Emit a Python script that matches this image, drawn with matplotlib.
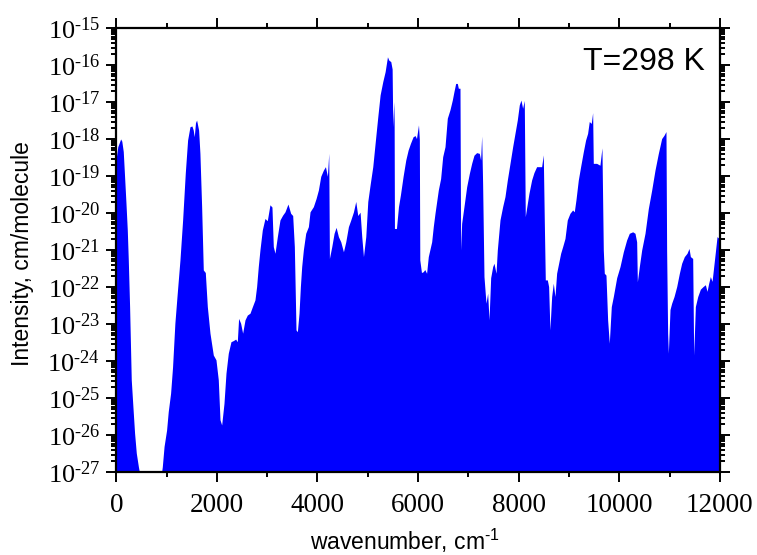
import numpy as np
import matplotlib
matplotlib.use('Agg')
import matplotlib.pyplot as plt
from matplotlib.ticker import FuncFormatter, LogLocator, MultipleLocator, NullFormatter

# envelope of the line spectrum (cm-1, log10 intensity)
wavenumber = [0, 30, 87, 110, 139, 165, 193, 219, 239, 265, 298, 331, 364, 398, 440, 460,
              900, 915, 950, 1000, 1033, 1080, 1119, 1165, 1212, 1266, 1319, 1372, 1418, 1465,
              1504, 1530, 1550, 1575, 1597, 1637, 1663, 1697, 1730, 1770, 1810, 1863, 1929,
              1982, 2028, 2062, 2095, 2141, 2181, 2227, 2280, 2327, 2373, 2406, 2432, 2472,
              2512, 2559, 2605, 2658, 2704, 2757, 2790, 2823, 2856, 2903, 2956, 3002, 3055,
              3095, 3122, 3155, 3202, 3254, 3307, 3354, 3413, 3467, 3507, 3540, 3573, 3600,
              3633, 3660, 3686, 3719, 3766, 3819, 3852, 3918, 3972, 4018, 4065, 4118, 4158,
              4197, 4224, 4237, 4284, 4330, 4370, 4416, 4463, 4516, 4562, 4615, 4662, 4715,
              4761, 4801, 4847, 4880, 4914, 4960, 5000, 5046, 5099, 5152, 5199, 5245, 5298,
              5345, 5391, 5418, 5457, 5484, 5497, 5517, 5524, 5530, 5570, 5610, 5649, 5702,
              5755, 5802, 5848, 5901, 5941, 5968, 6008, 6025, 6034, 6067, 6100, 6134, 6169,
              6203, 6270, 6302, 6336, 6402, 6448, 6489, 6535, 6581, 6634, 6680, 6713, 6747,
              6780, 6800, 6833, 6846, 6866, 6912, 6966, 7019, 7065, 7111, 7164, 7217, 7243,
              7264, 7283, 7310, 7350, 7383, 7410, 7443, 7483, 7509, 7549, 7575, 7628, 7681,
              7727, 7774, 7827, 7880, 7926, 7972, 8012, 8045, 8078, 8111, 8131, 8157, 8204,
              8257, 8303, 8356, 8409, 8456, 8489, 8509, 8529, 8569, 8595, 8621, 8655, 8688,
              8721, 8754, 8794, 8834, 8874, 8920, 8966, 9019, 9072, 9105, 9138, 9185, 9231,
              9284, 9330, 9370, 9403, 9443, 9470, 9483, 9549, 9615, 9655, 9682, 9702, 9735,
              9768, 9801, 9841, 9881, 9948, 10014, 10080, 10146, 10199, 10266, 10312, 10345,
              10359, 10398, 10445, 10511, 10577, 10644, 10710, 10776, 10842, 10889, 10928,
              10941, 10961, 10975, 11008, 11041, 11088, 11141, 11194, 11240, 11293, 11346,
              11386, 11413, 11459, 11479, 11512, 11559, 11612, 11665, 11711, 11744, 11777,
              11810, 11844, 11877, 11910, 11943, 11976, 12000]

log_intensity = [-18.5, -18.2, -17.99, -18.05, -18.33, -19.0, -19.73, -20.45, -21.26, -22.52,
                 -24.5, -25.23, -25.94, -26.48, -26.85, -27.0,
                 -27.0, -26.85, -26.3, -25.86, -25.36, -24.86, -24.15, -22.97, -22.16, -21.26,
                 -20.18, -18.91, -18.02, -17.66, -17.64, -17.75, -17.93, -17.55, -17.48, -17.75,
                 -18.38, -19.82, -21.53, -21.6, -22.52, -23.24, -23.83, -23.96, -24.5, -25.58,
                 -25.72, -25.14, -24.32, -23.78, -23.47, -23.44, -23.4, -23.47, -22.84, -22.97,
                 -23.24, -22.88, -22.75, -22.7, -22.53, -22.34, -21.98, -21.44, -20.99, -20.45,
                 -20.14, -20.2, -19.77, -19.83, -20.9, -21.08, -20.63, -20.18, -20.05, -19.96,
                 -19.75, -20.0, -20.06, -20.9, -23.15, -23.2, -22.7, -21.98, -21.44, -20.99,
                 -20.54, -20.36, -19.96, -19.82, -19.6, -19.37, -19.0, -18.83, -18.74, -19.0,
                 -18.38, -21.22, -20.9, -20.54, -20.38, -20.63, -20.77, -21.04, -20.77, -20.36,
                 -20.18, -19.96, -19.68, -20.06, -19.97, -20.63, -21.17, -20.63, -19.68, -19.23,
                 -18.74, -18.02, -17.39, -16.8, -16.44, -16.17, -15.77, -15.86, -15.9, -16.1,
                 -17.66, -16.98, -17.5, -20.41, -20.41, -19.82, -19.5, -19.0, -18.56, -18.29,
                 -18.11, -17.93, -17.9, -17.98, -17.61, -18.0, -21.26, -21.6, -21.58, -21.52,
                 -21.62, -21.17, -20.77, -20.36, -20.0, -19.37, -19.06, -18.47, -18.2, -17.43,
                 -17.2, -16.94, -16.71, -16.49, -16.49, -16.62, -16.62, -20.99, -20.27, -19.82,
                 -19.28, -18.92, -18.65, -18.43, -18.36, -18.38, -18.56, -17.91, -19.2, -21.71,
                 -22.43, -22.16, -22.88, -21.74, -21.44, -21.35, -21.62, -20.99, -20.18, -19.82,
                 -19.55, -19.1, -18.65, -18.2, -17.84, -17.48, -17.07, -16.94, -17.16, -16.95,
                 -20.09, -19.86, -19.46, -19.1, -18.9, -18.74, -18.74, -18.74, -18.42, -20.2,
                 -21.8, -21.8, -21.98, -23.15, -22.25, -21.89, -22.25, -21.62, -21.35, -21.08,
                 -20.9, -20.68, -20.18, -20.0, -19.91, -19.96, -19.64, -19.1, -18.74, -18.34,
                 -18.02, -17.84, -17.52, -17.57, -17.28, -18.65, -18.65, -18.7, -18.23, -20.99,
                 -21.62, -21.67, -22.88, -23.51, -22.52, -22.25, -21.74, -21.44, -21.04, -20.72,
                 -20.54, -20.5, -20.54, -20.77, -21.85, -21.44, -20.99, -20.54, -19.87, -19.37,
                 -18.83, -18.38, -17.98, -17.89, -17.79, -21.0, -23.24, -23.78, -22.6, -22.43,
                 -22.25, -21.98, -21.62, -21.35, -21.17, -21.08, -20.95, -21.17, -21.22, -23.83,
                 -22.52, -22.25, -22.05, -21.98, -21.93, -22.11, -21.89, -21.71, -21.84, -21.44,
                 -21.04, -20.63, -20.67, -20.6]

plt.rcParams['font.family'] = 'Liberation Serif'
plt.rcParams['mathtext.fontset'] = 'custom'
plt.rcParams['mathtext.rm'] = 'Liberation Serif'
plt.rcParams['mathtext.it'] = 'Liberation Serif:italic'
plt.rcParams['mathtext.bf'] = 'Liberation Serif:bold'
plt.rcParams['mathtext.sf'] = 'Liberation Sans'

w = np.array(wavenumber, dtype=float)
inten = 10.0 ** np.array(log_intensity)

fig = plt.figure(figsize=(7.57, 5.55), dpi=100)
ax = fig.add_axes([0.1536, 0.149, 0.7974, 0.800])

ax.fill_between(w, 1e-27, inten, color='#0000ff', linewidth=0)
ax.set_yscale('log')
ax.set_xlim(0, 12000)
ax.set_ylim(1e-27, 1e-15)


def ylab(v, p):
    e = int(round(np.log10(v)))
    return r'$\mathrm{10^{%s%d}}$' % ('\u2010' if e < 0 else '', abs(e))


ax.xaxis.set_major_locator(MultipleLocator(2000))
ax.xaxis.set_minor_locator(MultipleLocator(1000))
ax.yaxis.set_major_locator(LogLocator(base=10, numticks=20))
ax.yaxis.set_minor_locator(LogLocator(base=10, subs=np.arange(2, 10), numticks=200))
ax.yaxis.set_minor_formatter(NullFormatter())
ax.yaxis.set_major_formatter(FuncFormatter(ylab))

for s in ax.spines.values():
    s.set_linewidth(1.6)
ax.tick_params(which='both', direction='out', top=True, right=True, width=1.4)
ax.tick_params(which='major', length=7.5, pad=4)
ax.tick_params(which='minor', length=3.8)
ax.tick_params(axis='y', which='major', labelsize=19)
ax.tick_params(axis='x', which='major', labelsize=19.5, pad=7.5)

fig.text(405 / 757, 1 - 550 / 555, 'wavenumber, cm$\\mathsf{^{\u20101}}$', fontsize=16.5,
         family='Liberation Sans', ha='center', va='baseline')
fig.text(23 / 757, 1 - 254 / 555, 'Intensity, cm/molecule', fontsize=16.5,
         family='Liberation Sans', ha='center', va='center', rotation=90)
ax.text(0.975, 0.925, 'T=298 K', transform=ax.transAxes, ha='right', va='center',
        fontsize=23, family='Liberation Sans')

fig.savefig('out.png', dpi=100)
